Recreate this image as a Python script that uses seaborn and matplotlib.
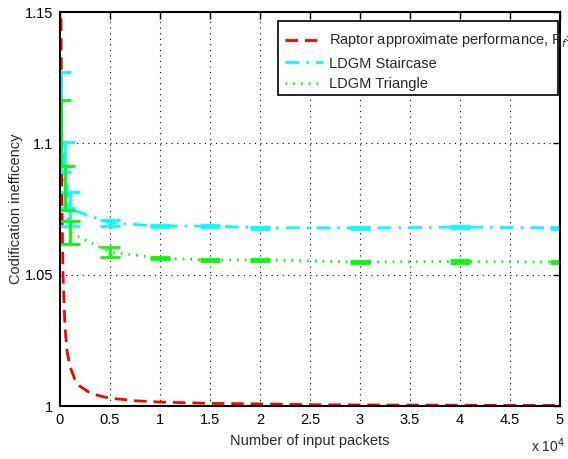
import numpy as np
import pandas as pd
import matplotlib
matplotlib.use("Agg")
import matplotlib.pyplot as plt
from matplotlib.patches import Rectangle
import seaborn as sns

# ---- data ----
raptor_x = [50, 100, 200, 300, 500, 700, 1000, 1500, 2000, 3000, 4000, 5000,
            7500, 10000, 15000, 20000, 25000, 30000, 40000, 50000]
raptor_y = [1.30, 1.150, 1.075, 1.050, 1.030, 1.021, 1.015, 1.010, 1.0075, 1.005,
            1.0038, 1.003, 1.002, 1.0015, 1.0010, 1.0008, 1.0005, 1.0004, 1.0003, 1.0002]

ldgm_x = [100, 500, 1000, 5000, 10000, 15000, 20000, 30000, 40000, 50000]
stair_y = [1.108, 1.088, 1.075, 1.0697, 1.0685, 1.0685, 1.0679, 1.0678, 1.0681, 1.0678]
stair_err = [0.019, 0.0125, 0.0065, 0.0013, 0.0005, 0.0005, 0.0004, 0.0004, 0.0005, 0.0004]
tri_y = [1.104, 1.083, 1.066, 1.0586, 1.0563, 1.0556, 1.0556, 1.0548, 1.0550, 1.0548]
tri_err = [0.0125, 0.0085, 0.0045, 0.0020, 0.0005, 0.0005, 0.0005, 0.0004, 0.0004, 0.0004]

labels = [r'Raptor approximate performance, P$_f$=10$^{-4}$', 'LDGM Staircase', 'LDGM Triangle']
xticks = [0, 5000, 10000, 15000, 20000, 25000, 30000, 35000, 40000, 45000, 50000]
xticklabels = ['0', '0.5', '1', '1.5', '2', '2.5', '3', '3.5', '4', '4.5', '5']
yticks = [1.0, 1.05, 1.1, 1.15]
yticklabels = ['1', '1.05', '1.1', '1.15']

sns.set_style('white')
plt.rcParams['font.family'] = ['Liberation Sans', 'DejaVu Sans']

W, H = 568, 459
fig = plt.figure(figsize=(W/100, H/100), dpi=100)
ax = fig.add_axes([60/W, 53/H, 500/W, 394/H])

df_r = pd.DataFrame({'x': raptor_x, 'y': raptor_y})
df_s = pd.DataFrame({'x': ldgm_x, 'y': stair_y})
df_t = pd.DataFrame({'x': ldgm_x, 'y': tri_y})

sns.lineplot(data=df_r, x='x', y='y', ax=ax, color='#ff0000', lw=2,
             linestyle=(0, (4.5, 2.5)), label=labels[0])
sns.lineplot(data=df_s, x='x', y='y', ax=ax, color='#00ffff', lw=2,
             linestyle=(0, (5, 2.5, 1, 2.5)), label=labels[1])
sns.lineplot(data=df_t, x='x', y='y', ax=ax, color='#00ff00', lw=2,
             linestyle=(0, (0.6, 2.2)), label=labels[2])

ax.errorbar(ldgm_x, stair_y, yerr=stair_err, fmt='none', ecolor='#00ffff',
            elinewidth=2, capsize=7, capthick=2)
ax.errorbar(ldgm_x, tri_y, yerr=tri_err, fmt='none', ecolor='#00ff00',
            elinewidth=2, capsize=7, capthick=2)

ax.set_xlim(0, 50000)
ax.set_ylim(1.0, 1.15)
ax.set_xticks(xticks)
ax.set_xticklabels(xticklabels)
ax.set_yticks(yticks)
ax.set_yticklabels(yticklabels)
ax.grid(True, color='black', linestyle=(0, (1, 4)), linewidth=0.8)
ax.tick_params(direction='in', length=5, width=1, top=True, right=True,
               labelsize=10.5, colors='black', pad=5)
for sp in ax.spines.values():
    sp.set_visible(True)
    sp.set_color('black')
    sp.set_linewidth(1.5)

ax.set_xlabel('Number of input packets', fontsize=10.5, labelpad=5)
ax.set_ylabel('Codification inefficency', fontsize=10.5, labelpad=1)
fig.text(531/W, 1 - 446/H, r'x 10$^4$', fontsize=10, va='center', ha='left')

# legend frame (MATLAB-style box, narrower than the overflowing text)
frame = Rectangle((278/W, 1 - 95/H), 280/W, 74/H, transform=fig.transFigure,
                  facecolor='white', edgecolor='black', linewidth=1.2,
                  zorder=4, clip_on=False)
ax.add_patch(frame)

leg = ax.legend(loc='upper left', bbox_to_anchor=(278/W, 1 - 21/H),
                bbox_transform=fig.transFigure, frameon=False,
                fontsize=10.5, handlelength=2.6, handletextpad=0.4,
                borderpad=0.5, labelspacing=0.45, borderaxespad=0)
leg.set_zorder(5)

fig.savefig('out.png', dpi=100)
